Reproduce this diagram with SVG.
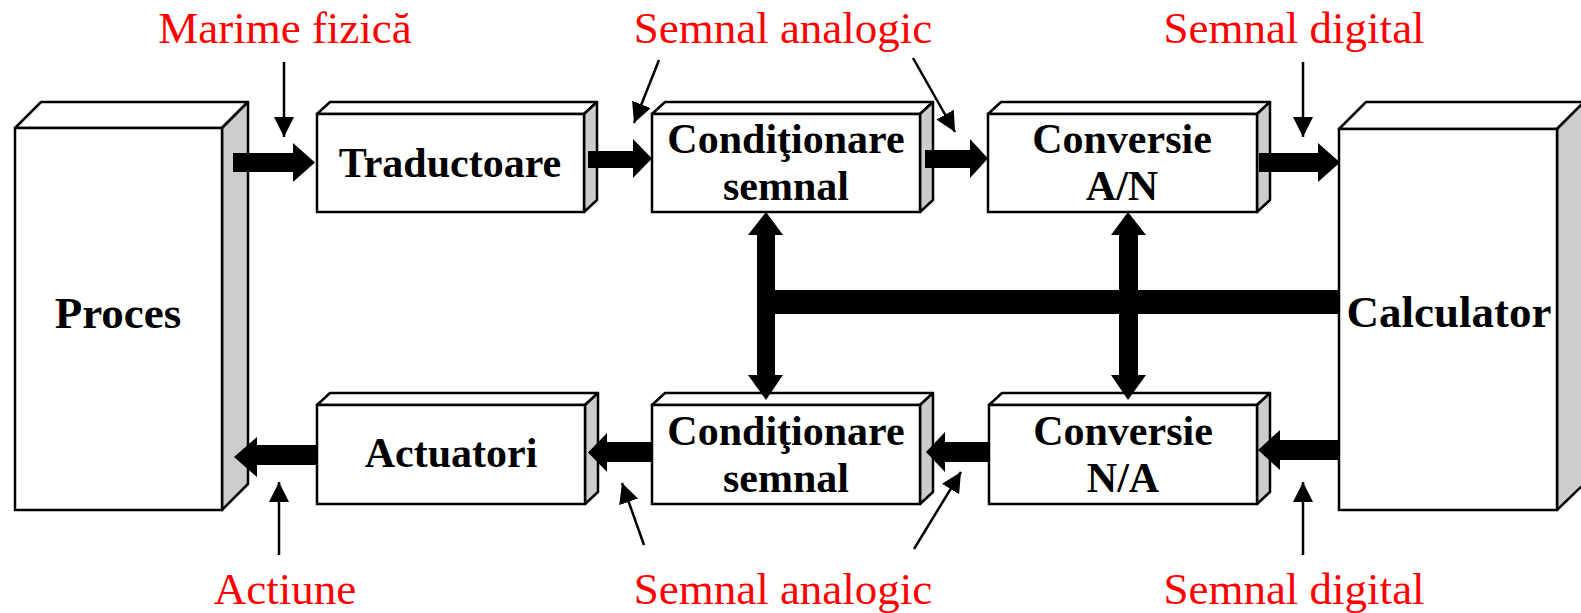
<svg xmlns="http://www.w3.org/2000/svg" width="1581" height="613" viewBox="0 0 1581 613">
<style>
.front{fill:#fff;stroke:#000;stroke-width:2.5}
.top{fill:#fff;stroke:#000;stroke-width:2.5;stroke-linejoin:round}
.side{fill:#ccc;stroke:#000;stroke-width:2.5;stroke-linejoin:round}
.lbl{font-family:"Liberation Serif","Times New Roman",serif;font-weight:bold;font-size:42px;text-anchor:middle;fill:#000}
.big{font-size:45px}
.red{font-family:"Liberation Serif","Times New Roman",serif;font-size:45px;text-anchor:middle;fill:#f00}
.ptr{stroke:#000;stroke-width:2.5;fill:none}
.fat{fill:#000}
</style>
<defs>
<marker id="ah" viewBox="0 0 10 10" refX="10" refY="5" markerWidth="8" markerHeight="8" markerUnits="userSpaceOnUse" orient="auto">
<path d="M0,0 L10,5 L0,10 Z" fill="#000"/>
</marker>
<marker id="ptrhead" viewBox="0 0 20 20" refX="20" refY="10" markerWidth="20" markerHeight="20" markerUnits="userSpaceOnUse" orient="auto">
<path d="M0,0 L20,10 L0,20 Z" fill="#000"/>
</marker>
</defs>

<g id="proces">
<polygon class="top" points="15,128 41,102 248,102 222,128"/>
<polygon class="side" points="222,128 248,102 248,484 222,510"/>
<rect class="front" x="15" y="128" width="207" height="382"/>
<text class="lbl big" x="118" y="328">Proces</text>
</g>

<g id="calculator">
<polygon class="top" points="1339,129 1366,102 1584,102 1557,129"/>
<polygon class="side" points="1557,129 1584,102 1584,484 1557,510"/>
<rect class="front" x="1339" y="129" width="218" height="381"/>
<text class="lbl big" x="1449" y="327">Calculator</text>
</g>

<g id="traductoare">
<polygon class="top" points="317,114 330,102 597,102 584,114"/>
<polygon class="side" points="584,114 597,102 597,200 584,212"/>
<rect class="front" x="317" y="114" width="267" height="98"/>
<text class="lbl" x="450" y="177">Traductoare</text>
</g>

<g id="conditionare-sus">
<polygon class="top" points="652,114 665,102 933,102 920,114"/>
<polygon class="side" points="920,114 933,102 933,200 920,212"/>
<rect class="front" x="652" y="114" width="268" height="98"/>
<text class="lbl" x="786" y="153">Condiţionare</text>
<text class="lbl" x="786" y="200">semnal</text>
</g>

<g id="conversie-an">
<polygon class="top" points="988,114 1001,102 1270,102 1257,114"/>
<polygon class="side" points="1257,114 1270,102 1270,200 1257,212"/>
<rect class="front" x="988" y="114" width="269" height="98"/>
<text class="lbl" x="1122" y="153">Conversie</text>
<text class="lbl" x="1122" y="200">A/N</text>
</g>

<g id="actuatori">
<polygon class="top" points="317,405 330,393 598,393 585,405"/>
<polygon class="side" points="585,405 598,393 598,492 585,504"/>
<rect class="front" x="317" y="405" width="268" height="99"/>
<text class="lbl" x="451" y="467">Actuatori</text>
</g>

<g id="conditionare-jos">
<polygon class="top" points="652,405 665,393 933,393 920,405"/>
<polygon class="side" points="920,405 933,393 933,492 920,504"/>
<rect class="front" x="652" y="405" width="268" height="99"/>
<text class="lbl" x="786" y="445">Condiţionare</text>
<text class="lbl" x="786" y="492">semnal</text>
</g>

<g id="conversie-na">
<polygon class="top" points="989,405 1002,393 1270,393 1257,405"/>
<polygon class="side" points="1257,405 1270,393 1270,492 1257,504"/>
<rect class="front" x="989" y="405" width="268" height="99"/>
<text class="lbl" x="1123" y="445">Conversie</text>
<text class="lbl" x="1123" y="492">N/A</text>
</g>

<g id="connectors">
<!-- upper flow arrows -->
<polygon class="fat" points="233,153 293,153 293,143 315,162.5 293,182 293,172 233,172"/>
<polygon class="fat" points="588,151 633,151 633,139 652,158.5 633,178 633,168 588,168"/>
<polygon class="fat" points="925,150 970,150 970,139 988,158.5 970,178 970,168 925,168"/>
<polygon class="fat" points="1259,153 1318,153 1318,143 1340,162.5 1318,182 1318,172 1259,172"/>
<!-- lower flow arrows -->
<polygon class="fat" points="1340,440 1280,440 1280,430 1258,450 1280,470 1280,460 1340,460"/>
<polygon class="fat" points="989,442 945,442 945,432 926,452 945,472 945,462 989,462"/>
<polygon class="fat" points="652,442 607,442 607,433 588,452.5 607,472 607,462 652,462"/>
<polygon class="fat" points="317,445 257,445 257,437 234,457 257,477 257,465 317,465"/>
<!-- bus -->
<rect class="fat" x="757" y="290" width="583" height="24"/>
<polygon class="fat" points="766,212 783,235 775,235 775,375 783,375 766,400 748,375 757,375 757,235 748,235"/>
<polygon class="fat" points="1128,212 1146,235 1138,235 1138,375 1146,375 1128,400 1111,375 1119,375 1119,235 1111,235"/>
<!-- label pointers -->
<line class="ptr" x1="284" y1="62" x2="284" y2="137" marker-end="url(#ptrhead)"/>
<line class="ptr" x1="659" y1="60" x2="634" y2="123" marker-end="url(#ptrhead)"/>
<line class="ptr" x1="913" y1="58" x2="955" y2="132" marker-end="url(#ptrhead)"/>
<line class="ptr" x1="1303" y1="62" x2="1303" y2="137" marker-end="url(#ptrhead)"/>
<line class="ptr" x1="279" y1="555" x2="279" y2="482" marker-end="url(#ptrhead)"/>
<line class="ptr" x1="644" y1="545" x2="622" y2="483" marker-end="url(#ptrhead)"/>
<line class="ptr" x1="914" y1="549" x2="961" y2="472" marker-end="url(#ptrhead)"/>
<line class="ptr" x1="1303" y1="555" x2="1303" y2="482" marker-end="url(#ptrhead)"/>
</g>

<g id="labels">
<text class="red" x="285" y="43">Marime fizică</text>
<text class="red" x="783" y="43">Semnal analogic</text>
<text class="red" x="1294" y="43">Semnal digital</text>
<text class="red" x="285" y="604">Actiune</text>
<text class="red" x="783" y="604">Semnal analogic</text>
<text class="red" x="1294" y="604">Semnal digital</text>
</g>
</svg>
